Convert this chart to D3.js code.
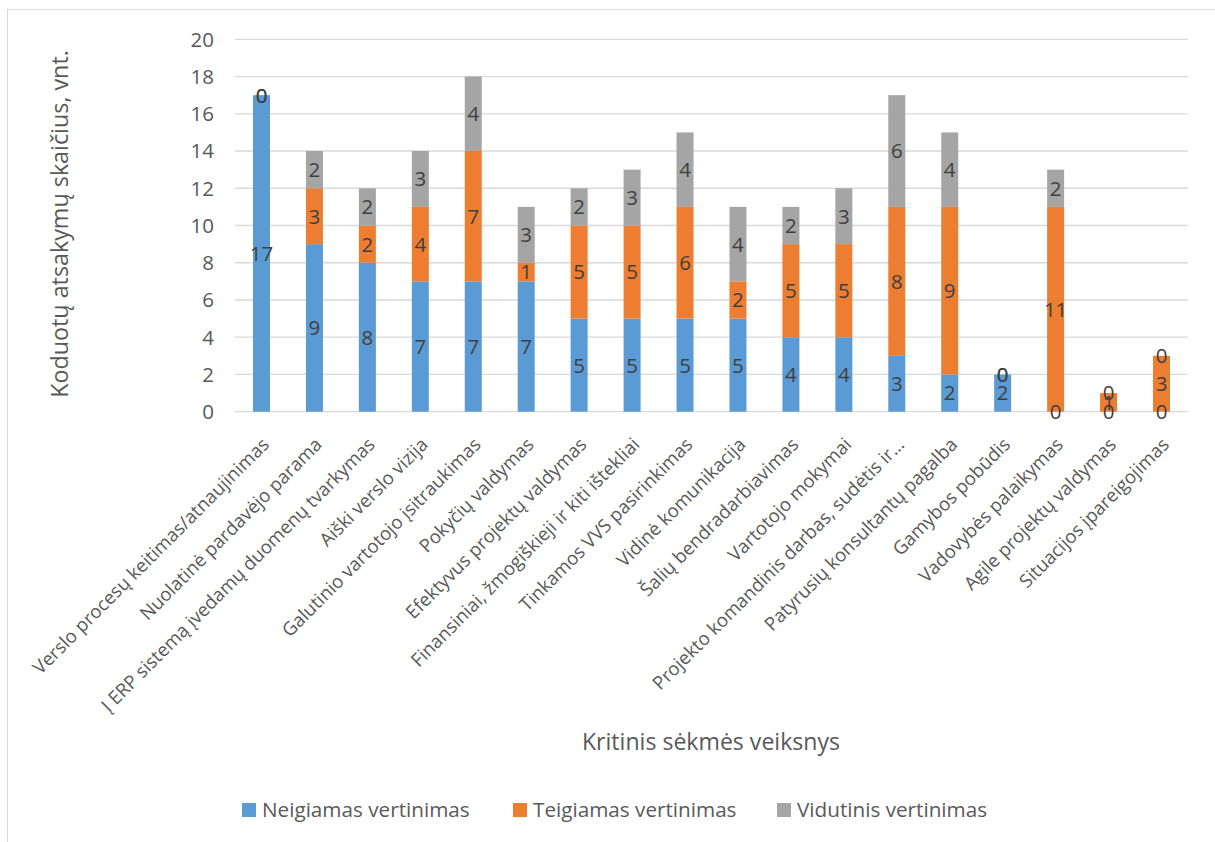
<!DOCTYPE html>
<html>
<head>
<meta charset="utf-8">
<script src="https://cdn.jsdelivr.net/npm/d3@7"></script>
<style>
  html, body { margin: 0; padding: 0; background: #fff; }
  svg { display: block; }
  text { font-family: "Open Sans", sans-serif; }
</style>
</head>
<body>
<svg id="chart" width="1215" height="842"></svg>
<script>
const categories = [
  "Verslo procesų keitimas/atnaujinimas",
  "Nuolatinė pardavėjo parama",
  "Į ERP sistemą įvedamų duomenų tvarkymas",
  "Aiški verslo vizija",
  "Galutinio vartotojo įsitraukimas",
  "Pokyčių valdymas",
  "Efektyvus projektų valdymas",
  "Finansiniai, žmogiškieji ir kiti ištekliai",
  "Tinkamos VVS pasirinkimas",
  "Vidinė komunikacija",
  "Šalių bendradarbiavimas",
  "Vartotojo mokymai",
  "Projekto komandinis darbas, sudėtis ir...",
  "Patyrusių konsultantų pagalba",
  "Gamybos pobūdis",
  "Vadovybės palaikymas",
  "Agile projektų valdymas",
  "Situacijos įpareigojimas"
];
const seriesNames = ["Neigiamas vertinimas", "Teigiamas vertinimas", "Vidutinis vertinimas"];
const neigiamas = [17, 9, 8, 7, 7, 7, 5, 5, 5, 5, 4, 4, 3, 2, 2, 0, 0, 0];
const teigiamas = [0, 3, 2, 4, 7, 1, 5, 5, 6, 2, 5, 5, 8, 9, 0, 11, 1, 3];
const vidutinis = [0, 2, 2, 3, 4, 3, 2, 3, 4, 4, 2, 3, 6, 4, 0, 2, 0, 0];
const yTicks = [0, 2, 4, 6, 8, 10, 12, 14, 16, 18, 20];
const yTitle = "Koduotų atsakymų skaičius, vnt.";
const xTitle = "Kritinis sėkmės veiksnys";

const colors = ["#5B9BD5", "#ED7D31", "#A5A5A5"];
const svg = d3.select("#chart");

// chart border
svg.append("rect").attr("x", 7.5).attr("y", 9.5).attr("width", 1400).attr("height", 1000)
  .attr("fill", "none").attr("stroke", "#d9d9d9").attr("stroke-width", 1);

const x = d3.scaleBand().domain(categories).range([235, 1188])
  .paddingInner(0.679).paddingOuter(0.34);
const y = d3.scaleLinear().domain([0, 20]).range([411.7, 39.3]);

// gridlines
svg.append("g").selectAll("line").data(yTicks).join("line")
  .attr("x1", 235).attr("x2", 1188)
  .attr("y1", d => y(d)).attr("y2", d => y(d))
  .attr("stroke", "#d9d9d9").attr("stroke-width", 1.3);

// y tick labels
svg.append("g").selectAll("text").data(yTicks).join("text")
  .attr("x", 214).attr("y", d => y(d)).attr("dy", "0.36em")
  .attr("text-anchor", "end").attr("fill", "#595959").attr("font-size", 20.5)
  .text(d => d);

// stacked data
const rows = categories.map((c, i) => ({ cat: c, s0: neigiamas[i], s1: teigiamas[i], s2: vidutinis[i] }));
const stack = d3.stack().keys(["s0", "s1", "s2"])(rows);

const layers = svg.append("g").selectAll("g").data(stack).join("g")
  .attr("fill", (d, i) => colors[i]);
layers.selectAll("rect").data(d => d).join("rect")
  .attr("x", d => x(d.data.cat))
  .attr("width", x.bandwidth())
  .attr("y", d => y(d[1]))
  .attr("height", d => y(d[0]) - y(d[1]));

// data labels
const lbl = svg.append("g");
stack.forEach(layer => {
  layer.forEach(d => {
    lbl.append("text")
      .attr("x", x(d.data.cat) + x.bandwidth() / 2)
      .attr("y", y((d[0] + d[1]) / 2))
      .attr("dy", "0.36em")
      .attr("text-anchor", "middle")
      .attr("fill", "#404040").attr("font-size", 20.5)
      .text(d[1] - d[0]);
  });
});

// category labels
svg.append("g").selectAll("text").data(categories).join("text")
  .attr("transform", d => `translate(${x(d) + x.bandwidth() / 2 + 4},${441}) rotate(-45)`)
  .attr("dy", "0.36em")
  .attr("text-anchor", "end").attr("fill", "#595959").attr("font-size", 18.6)
  .text(d => d);

// y title
svg.append("text")
  .attr("transform", "translate(60,224) rotate(-90)")
  .attr("dy", "0.36em")
  .attr("text-anchor", "middle").attr("fill", "#595959").attr("font-size", 23.3)
  .text(yTitle);

// x title
svg.append("text")
  .attr("x", 711).attr("y", 742).attr("dy", "0.36em")
  .attr("text-anchor", "middle").attr("fill", "#595959").attr("font-size", 23.1)
  .text(xTitle);

// legend
const legendX = [242, 513, 777];
const leg = svg.append("g").selectAll("g").data(seriesNames).join("g")
  .attr("transform", (d, i) => `translate(${legendX[i]},810)`);
leg.append("rect").attr("x", 0).attr("y", -7).attr("width", 14).attr("height", 14)
  .attr("fill", (d, i) => colors[i]);
leg.append("text").attr("x", 20).attr("y", 0).attr("dy", "0.36em")
  .attr("fill", "#595959").attr("font-size", 20.7).text(d => d);
</script>
</body>
</html>
